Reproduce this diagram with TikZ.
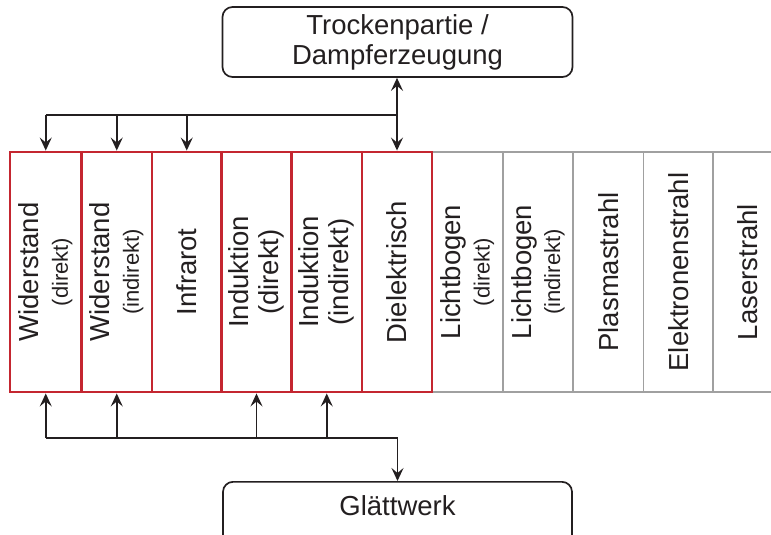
\documentclass[tikz,border=0pt]{standalone}
\usepackage{fontspec}
\setmainfont{Liberation Sans}
\usetikzlibrary{arrows.meta}
\definecolor{redbox}{RGB}{196,38,48}
\definecolor{graybox}{RGB}{160,160,160}
\definecolor{ink}{RGB}{35,31,32}
\begin{document}
\begin{tikzpicture}[x=1pt,y=-1pt,
  bigfont/.style={font=\fontsize{27.5}{30}\selectfont},
  col/.style={rotate=90, minimum width=240pt, inner sep=0pt, align=center,
              text=ink, bigfont},
  redcol/.style={col, draw=redbox, line width=2.9pt},
  graycol/.style={col, draw=graybox, line width=1.7pt},
  rbox/.style={draw=ink, line width=1.7pt, rounded corners=10pt, inner sep=0pt,
               align=center, text=ink, bigfont},
  conn/.style={draw=ink, line width=1.5pt},
  tip/.tip={Stealth[length=13pt,width=12pt,inset=5pt]},
  arr/.style={conn, -tip},
  thickarr/.style={conn, line width=2.2pt, tip-}
]
\useasboundingbox (0,0) rectangle (771,535);
\clip (0,0) rectangle (771,535);
\newcommand{\sm}[1]{{\fontsize{22}{24}\selectfont #1}}
% gray columns
\node[graycol, minimum height=71pt]   (c7)  at (467.5,272) {Lichtbogen\\[-1pt]\sm{(direkt)}};
\node[graycol, minimum height=70pt]   (c8)  at (538,272)   {Lichtbogen\\[-1pt]\sm{(indirekt)}};
\node[graycol, minimum height=70.5pt] (c9)  at (608.25,272) {Plasmastrahl};
\node[graycol, minimum height=69.5pt] (c10) at (678.25,272) {Elektronenstrahl};
\node[graycol, minimum height=70pt]   (c11) at (748,272)   {Laserstrahl};
% red columns
\node[redcol, minimum height=71.5pt] (c1) at (45.75,272)  {Widerstand\\[-1pt]\sm{(direkt)}};
\node[redcol, minimum height=70.5pt] (c2) at (116.75,272) {Widerstand\\[-1pt]\sm{(indirekt)}};
\node[redcol, minimum height=69.5pt] (c3) at (186.75,272) {Infrarot};
\node[redcol, minimum height=70pt]   (c4) at (256.5,272)  {Induktion\\(direkt)};
\node[redcol, minimum height=70.5pt] (c5) at (326.75,272) {Induktion\\(indirekt)};
\node[redcol, minimum height=70pt]   (c6) at (397,272)    {Dielektrisch};
% boxes
\node[rbox, minimum width=350pt, minimum height=70pt] (top) at (397.5,42) {Trockenpartie /\\Dampferzeugung};
\node[rbox, minimum width=349pt, minimum height=70pt, anchor=north] (bot) at (397.5,481) {};
\node[anchor=base, text=ink, bigfont] (botlabel) at (397.5,515) {Glättwerk};
% top connectors
\coordinate (tj) at (397,115);
\draw[thickarr] (top.south -| c6.east) -- (tj);
\draw[arr] (tj) -- (c6.east);
\draw[conn] (c1.east |- tj) -- (tj);
\draw[arr] (c1.east |- tj) -- (c1.east);
\draw[arr] (c2.east |- tj) -- (c2.east);
\draw[arr] (c3.east |- tj) -- (c3.east);
% bottom connectors
\coordinate (bj) at (397.5,438);
\draw[conn] (c1.west |- bj) -- (bj);
\draw[arr] (c1.west |- bj) -- (c1.west);
\draw[arr] (c2.west |- bj) -- (c2.west);
\draw[arr] (c4.west |- bj) -- (c4.west);
\draw[arr] (c5.west |- bj) -- (c5.west);
\draw[arr, line width=1.8pt] (bj) -- (bot.north);
\end{tikzpicture}
\end{document}
